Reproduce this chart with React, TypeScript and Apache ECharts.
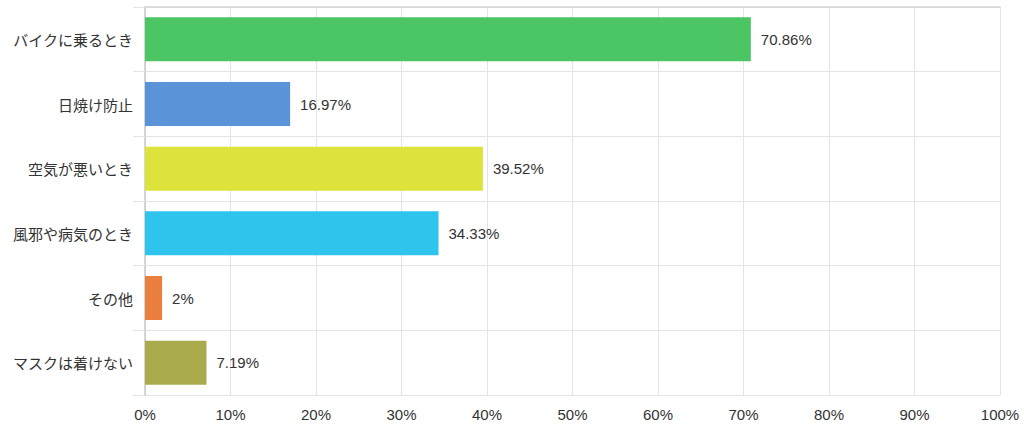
import React, { useEffect, useRef } from "react";
import * as echarts from "echarts";

const categories = ["バイクに乗るとき", "日焼け防止", "空気が悪いとき", "風邪や病気のとき", "その他", "マスクは着けない"];
const values = [70.86, 16.97, 39.52, 34.33, 2, 7.19];
const colors = ["#4cc665", "#5b93d9", "#dde33b", "#2fc4ee", "#ea803f", "#a9aa4b"];
const xTicks = { min: 0, max: 100, interval: 10 };

const font = "'Liberation Sans', Arial, 'Noto Sans CJK JP', sans-serif";

export default function App() {
  const ref = useRef<HTMLDivElement>(null);
  useEffect(() => {
    document.body.style.margin = "0";
    const chart = echarts.init(ref.current!, null, { renderer: "svg" });
    chart.setOption({
      animation: false,
      grid: { left: 145, right: 24, top: 7, bottom: 34, containLabel: false },
      xAxis: [
        {
          type: "value",
          min: xTicks.min,
          max: xTicks.max,
          interval: xTicks.interval,
          axisLabel: {
            formatter: "{value}%",
            color: "#333",
            fontSize: 15,
            margin: 12,
            fontFamily: font,
          },
          axisLine: { show: false },
          axisTick: { show: false },
          splitLine: { show: true, lineStyle: { color: "#e4e4e4", width: 1 } },
        },
        {
          type: "value",
          position: "top",
          min: xTicks.min,
          max: xTicks.max,
          interval: xTicks.interval,
          axisLabel: { show: false },
          axisTick: { show: false },
          splitLine: { show: false },
          axisLine: { show: true, lineStyle: { color: "#d4d4d4", width: 1.5 } },
        },
      ],
      yAxis: {
        type: "category",
        inverse: true,
        data: categories,
        axisLabel: {
          color: "#333",
          fontSize: 15,
          margin: 12,
          fontFamily: "'Noto Sans CJK JP', sans-serif",
        },
        axisLine: { show: true, lineStyle: { color: "#c8c8c8", width: 1.5 } },
        axisTick: { show: true, length: 12, lineStyle: { color: "#e4e4e4" } },
        splitLine: { show: true, lineStyle: { color: "#e4e4e4", width: 1 } },
      },
      series: [
        {
          type: "bar",
          xAxisIndex: 0,
          barWidth: "68%",
          data: values.map((v, i) => ({ value: v, itemStyle: { color: colors[i] } })),
          label: {
            show: true,
            position: "right",
            distance: 10,
            formatter: "{c}%",
            color: "#333",
            fontSize: 15,
            fontFamily: font,
          },
        },
      ],
    });
    return () => chart.dispose();
  }, []);
  return <div ref={ref} style={{ width: 1024, height: 429 }} />;
}
